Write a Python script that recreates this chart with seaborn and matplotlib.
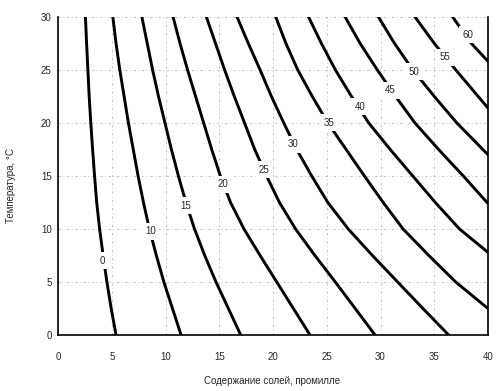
import pandas as pd
import matplotlib
matplotlib.use('Agg')
import matplotlib.pyplot as plt
import seaborn as sns

# temperature (deg C) at which the curves were read
temps = [0, 2.5, 5, 7.5, 10, 12.5, 15, 17.5, 20, 22.5, 25, 27.5, 30]

# salt content (promille) of each curve at those temperatures
sal_0 = [5.4, 4.95, 4.55, 4.2, 3.87, 3.6, 3.4, 3.22, 3.05, 2.9, 2.78, 2.66, 2.55]
sal_10 = [11.45, 10.65, 9.85, 9.15, 8.5, 7.95, 7.45, 7.0, 6.55, 6.15, 5.75, 5.4, 5.1]
sal_15 = [17.0, 15.85, 14.7, 13.65, 12.7, 11.9, 11.2, 10.55, 9.95, 9.35, 8.8, 8.3, 7.8]
sal_20 = [23.45, 21.9, 20.35, 18.8, 17.3, 16.05, 15.1, 14.3, 13.55, 12.8, 12.05, 11.35, 10.7]
sal_25 = [29.5, 27.65, 25.8, 23.9, 22.1, 20.6, 19.4, 18.3, 17.35, 16.4, 15.5, 14.65, 13.8]
sal_30 = [36.35, 33.95, 31.6, 29.25, 27.0, 25.1, 23.6, 22.2, 21.0, 19.85, 18.8, 17.7, 16.65]

# curves that leave through the right edge (salt content 40)
temp_35 = [2.5, 5, 7.5, 10, 12.5, 15, 17.5, 20, 22.5, 25, 27.5, 30]
sal_35 = [40.0, 37.0, 34.5, 32.1, 30.25, 28.5, 26.8, 25.1, 23.65, 22.3, 21.2, 20.25]
temp_40 = [7.8, 10, 12.5, 15, 17.5, 20, 22.5, 25, 27.5, 30]
sal_40 = [40.0, 37.35, 35.1, 33.0, 30.9, 28.9, 27.3, 25.8, 24.5, 23.3]
temp_45 = [12.4, 15, 17.5, 20, 22.5, 25, 27.5, 30]
sal_45 = [40.0, 37.7, 35.4, 33.2, 31.4, 29.7, 28.1, 26.7]
temp_50 = [17.0, 20, 22.5, 25, 27.5, 30]
sal_50 = [40.0, 37.1, 35.0, 33.0, 31.3, 29.8]
temp_55 = [21.4, 25, 27.5, 30]
sal_55 = [40.0, 37.0, 35.0, 33.2]
temp_60 = [25.8, 27.5, 30]
sal_60 = [40.0, 38.45, 36.7]

levels = [0, 10, 15, 20, 25, 30, 35, 40, 45, 50, 55, 60]
label_x = [4.1, 8.6, 11.9, 15.35, 19.2, 21.9, 25.2, 28.1, 30.9, 33.1, 36.0, 38.1]
label_y = [7.0, 9.8, 12.2, 14.2, 15.6, 18.0, 20.0, 21.5, 23.1, 24.8, 26.2, 28.3]

curves = [
    (0, sal_0, temps), (10, sal_10, temps), (15, sal_15, temps),
    (20, sal_20, temps), (25, sal_25, temps), (30, sal_30, temps),
    (35, sal_35, temp_35), (40, sal_40, temp_40), (45, sal_45, temp_45),
    (50, sal_50, temp_50), (55, sal_55, temp_55), (60, sal_60, temp_60),
]
rows = []
for lev, xs, ys in curves:
    for x, y in zip(xs, ys):
        rows.append({'level': lev, 'salt': x, 'temp': y})
df = pd.DataFrame(rows)

sns.set_style('white')
plt.rcParams['font.family'] = ['Liberation Sans', 'DejaVu Sans']

fig = plt.figure(figsize=(5, 3.91), dpi=100)
ax = fig.add_axes([0.116, 0.143, 0.86, 0.814])

sns.lineplot(data=df, x='salt', y='temp', units='level', estimator=None,
             sort=False, color='black', linewidth=2.1, ax=ax, legend=False)

for lev, lx, ly in zip(levels, label_x, label_y):
    ax.text(lx, ly, str(lev), fontsize=7, ha='center', va='center',
            bbox=dict(facecolor='white', edgecolor='none', pad=2.5), zorder=5)

ax.set_xlim(0, 40)
ax.set_ylim(0, 30)
ax.set_xticks(range(0, 41, 5))
ax.set_yticks(range(0, 31, 5))
ax.grid(True, color='#bdbdbd', linestyle=(0, (3, 3, 1, 3)), linewidth=0.6)
ax.tick_params(axis='x', labelsize=7, length=0, pad=12)
ax.tick_params(axis='y', labelsize=7, length=0, pad=4.5)

ax.spines['top'].set_visible(False)
for s in ['left', 'bottom', 'right']:
    ax.spines[s].set_color('black')
    ax.spines[s].set_linewidth(1.2)

ax.set_xlabel('Содержание солей, промилле', fontsize=7)
ax.set_ylabel('Температура, °C', fontsize=7)
ax.xaxis.set_label_coords(0.498, -0.127)
ax.yaxis.set_label_coords(-0.098, 0.469)

fig.savefig('out.png', dpi=100)
